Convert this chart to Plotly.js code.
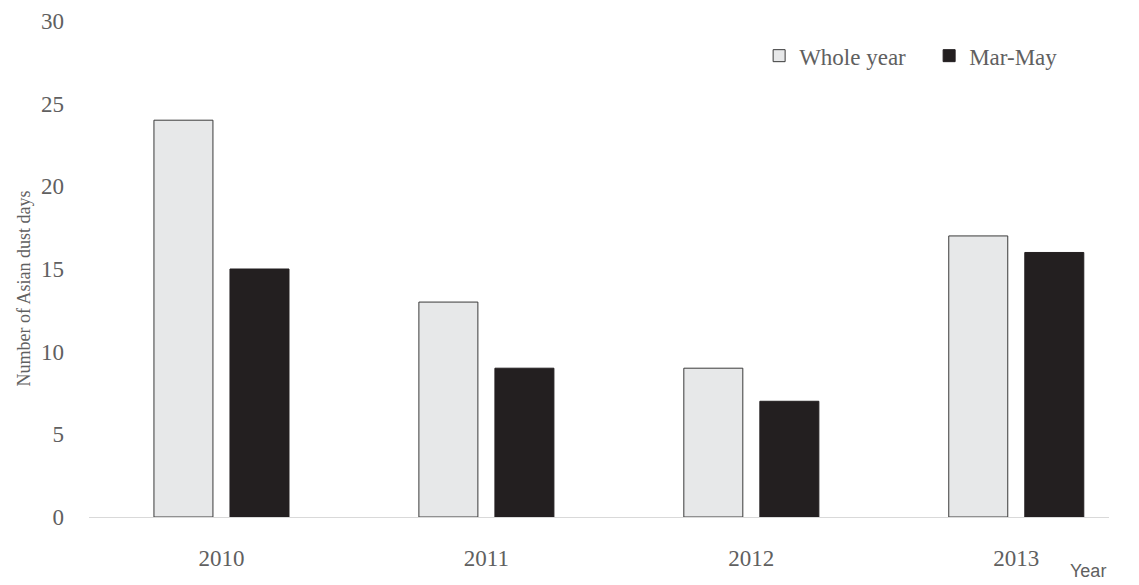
<!DOCTYPE html>
<html>
<head>
<meta charset="utf-8">
<script src="https://cdn.plot.ly/plotly-3.0.1.min.js"></script>
<style>html,body{margin:0;padding:0;background:#fff;}#chart{width:1139px;height:585px;}</style>
</head>
<body>
<div id="chart"></div>
<script>
const years = ['2010', '2011', '2012', '2013'];
const wholeYear = [24, 13, 9, 17];
const marMay = [15, 9, 7, 16];
const yTicks = [0, 5, 10, 15, 20, 25, 30];

const serif = 'Liberation Serif, Times New Roman, serif';
const gray = '#606060';

const traces = [
  {
    type: 'bar', name: 'Whole year', x: years, y: wholeYear,
    marker: {color: '#e7e8e9', line: {color: '#3a3a3a', width: 1}}
  },
  {
    type: 'bar', name: 'Mar-May', x: years, y: marMay,
    marker: {color: '#231f20', line: {color: '#231f20', width: 1}}
  }
];

const layout = {
  width: 1139, height: 585,
  margin: {l: 89, r: 30, t: 21, b: 68},
  paper_bgcolor: '#fff', plot_bgcolor: '#fff',
  barmode: 'group', bargap: 0.426, bargroupgap: 0.224,
  font: {family: serif, color: gray, size: 23},
  showlegend: true,
  legend: {
    orientation: 'h', x: 0.657, y: 0.93, xanchor: 'left', yanchor: 'middle',
    font: {family: serif, size: 23, color: gray},
    entrywidth: 125, entrywidthmode: 'pixels',
    traceorder: 'normal', bgcolor: 'rgba(0,0,0,0)'
  },
  xaxis: {
    type: 'category', range: [-0.5, 3.35],
    showgrid: false, zeroline: false, showline: true, linecolor: '#d9d9d9', linewidth: 1.3,
    ticks: '', ticklabelstandoff: 20,
    tickfont: {family: serif, size: 23, color: gray}
  },
  yaxis: {
    range: [0, 30], tickvals: yTicks, ticktext: yTicks.map(String),
    showgrid: false, zeroline: false, showline: false, ticks: '',
    ticklabelstandoff: 24,
    tickfont: {family: serif, size: 23, color: gray}
  },
  annotations: [
    {
      text: 'Number of Asian dust days', xref: 'paper', yref: 'y',
      x: -0.064, y: 13.8, xanchor: 'center', yanchor: 'middle', textangle: -90,
      showarrow: false, font: {family: serif, size: 18, color: gray}
    },
    {
      text: 'Year', xref: 'paper', yref: 'paper', x: 0.999, y: -0.108,
      xanchor: 'right', yanchor: 'middle', showarrow: false,
      font: {family: 'Liberation Sans, Arial, sans-serif', size: 18, color: gray}
    }
  ]
};

Plotly.newPlot('chart', traces, layout, {displayModeBar: false, staticPlot: true});
</script>
</body>
</html>
